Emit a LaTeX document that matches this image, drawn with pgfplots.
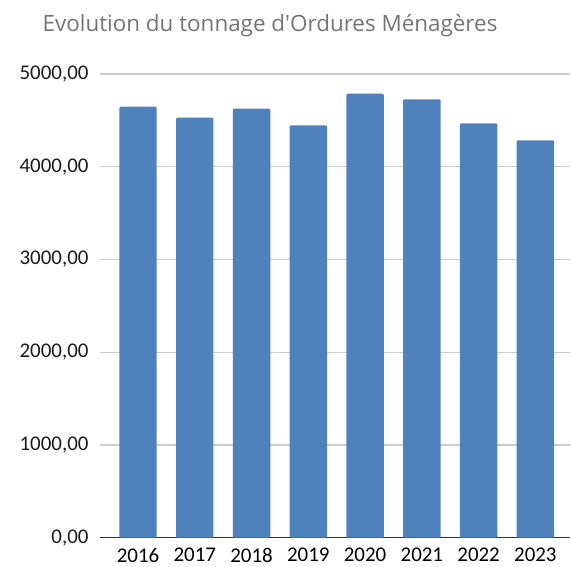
\documentclass[border=0pt]{standalone}
\usepackage{pgfplots}
\pgfplotsset{compat=1.18}
\usepackage{fontspec}
\setmainfont{Open Sans}
\newfontfamily\xfont{Carlito}
\definecolor{barblue}{HTML}{4F81BD}
\definecolor{titlegray}{HTML}{757575}
\definecolor{gridgray}{HTML}{CCCCCC}
\definecolor{labeldark}{HTML}{1A1A1A}
\begin{document}
\begin{tikzpicture}
\path[use as bounding box] (0,0) rectangle (571bp,-567bp);
\node[anchor=base, text=titlegray, font=\fontsize{22.5}{26}\selectfont] at (270bp,-31bp) {Evolution du tonnage d\textquotesingle Ordures Ménagères};
\begin{axis}[
  at={(100bp,-537.7bp)}, anchor=south west,
  scale only axis, width=470bp, height=463.7bp,
  xmin=-0.67, xmax=7.61, ymin=0, ymax=5000,
  ytick={0,1000,2000,3000,4000,5000},
  xtick={0,...,7},
  xticklabels={2016,2017,2018,2019,2020,2021,2022,2023},
  axis x line*=bottom, axis y line*=left,
  y axis line style={draw=none},
  x axis line style={draw=black!80, line width=0.9bp, -},
  ymajorgrids, grid style={draw=gridgray, line width=1.1bp},
  major tick length=0pt,
  tick style={draw=none},
  yticklabel style={/pgf/number format/fixed, /pgf/number format/fixed zerofill, /pgf/number format/precision=2, /pgf/number format/use comma, /pgf/number format/1000 sep={}, /pgf/number format/assume math mode=true, font=\xfont\fontsize{21}{24}\selectfont, text=labeldark, xshift=-8bp},
  xticklabel style={font=\xfont\fontsize{21}{24}\selectfont, text=black, inner sep=1bp, yshift=-9bp},
  scaled y ticks=false,
  clip=false,
]
\addplot[ybar, bar width=37.4bp, fill=barblue, draw=none, rounded corners=1.2bp] coordinates {
  (0,4647) (1,4529) (2,4626) (3,4447) (4,4788) (5,4727) (6,4468) (7,4285)
};
\end{axis}
\end{tikzpicture}
\end{document}
